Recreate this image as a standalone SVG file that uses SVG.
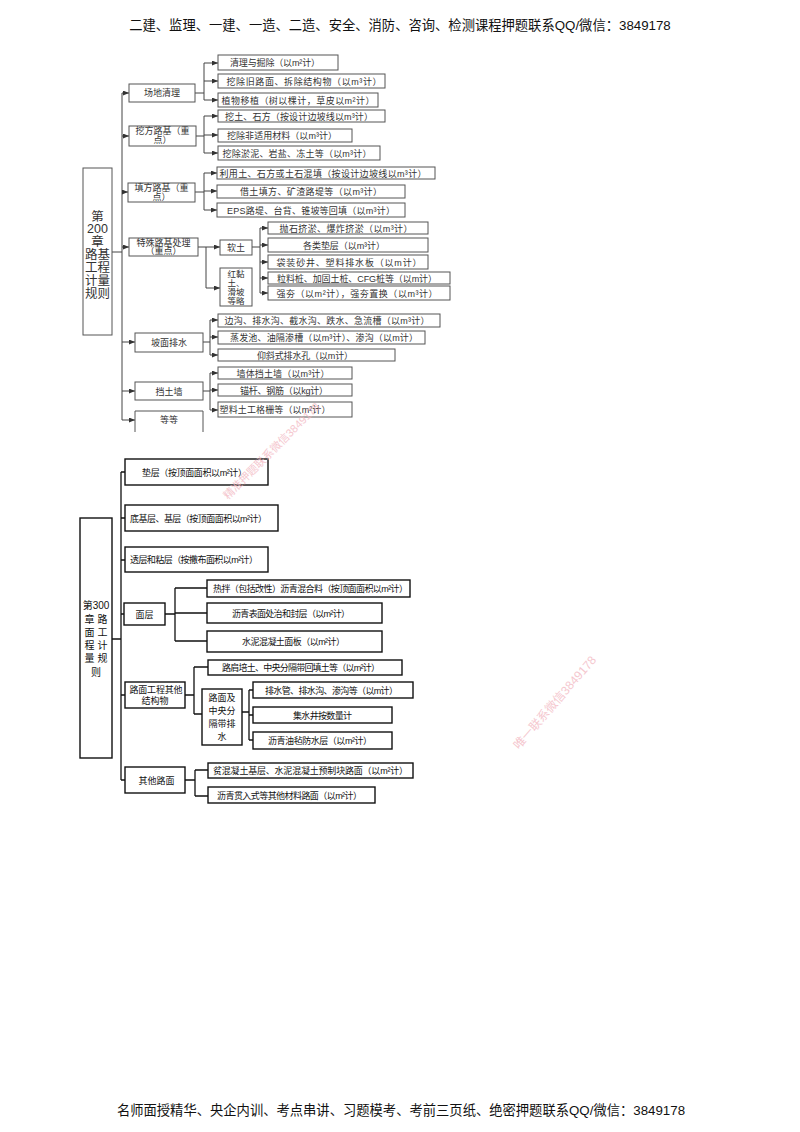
<svg xmlns="http://www.w3.org/2000/svg" width="800" height="1132" viewBox="0 0 800 1132">
<defs>
<marker id="arr" markerUnits="userSpaceOnUse" markerWidth="6" markerHeight="5" refX="6" refY="2.5" orient="auto"><path d="M0,0 L6,2.5 L0,5 z" fill="#333"/></marker>
<style>
text{font-family:"Liberation Sans","Noto Sans CJK SC",sans-serif;}
.hd{font-size:13.3px;fill:#111;text-anchor:middle;}
.tb{fill:#fff;stroke:#555;stroke-width:1;}
.tt{font-size:9px;fill:#333;text-anchor:middle;}
.tl{fill:none;stroke:#444;stroke-width:1;}
.ta{fill:none;stroke:#444;stroke-width:1;marker-end:url(#arr);}
.bb{fill:#fff;stroke:#111;stroke-width:1.4;}
.bt{font-size:9px;fill:#111;text-anchor:middle;}
.bl{fill:none;stroke:#111;stroke-width:1.3;}
.rt{font-size:12.5px;fill:#333;text-anchor:middle;}
.wm{fill:#f2b4be;opacity:0.75;}
</style>
</defs>
<rect width="800" height="1132" fill="#fff"/>
<text class="hd" x="400" y="30">二建、监理、一建、一造、二造、安全、消防、咨询、检测课程押题联系QQ/微信：3849178</text>
<text class="hd" x="401" y="1115">名师面授精华、央企内训、考点串讲、习题模考、考前三页纸、绝密押题联系QQ/微信：3849178</text>

<g id="connectors-top">
<path class="tl" d="M112,252 H122 M122,93 V420"/>
<path class="ta" d="M122,93 H129"/>
<path class="ta" d="M122,136 H129"/>
<path class="ta" d="M122,192 H128"/>
<path class="ta" d="M122,247 H129"/>
<path class="ta" d="M122,342 H135"/>
<path class="ta" d="M122,391 H135"/>
<path class="ta" d="M122,420 H135"/>
<path class="tl" d="M195,93 H204 M204,63 V100"/>
<path class="ta" d="M204,63 H218"/><path class="ta" d="M204,81 H218"/><path class="ta" d="M204,100 H218"/>
<path class="tl" d="M196,136 H204 M204,116 V153"/>
<path class="ta" d="M204,116 H218"/><path class="ta" d="M204,135 H218"/><path class="ta" d="M204,153 H218"/>
<path class="tl" d="M195,192 H204 M204,173 V210"/>
<path class="ta" d="M204,173 H217"/><path class="ta" d="M204,191 H217"/><path class="ta" d="M204,210 H217"/>
<path class="tl" d="M198,247 H206 M206,247 V288"/>
<path class="ta" d="M206,247 H220"/><path class="ta" d="M206,288 H220"/>
<path class="tl" d="M252,247 H260 M260,228 V293"/>
<path class="ta" d="M260,228 H268"/><path class="ta" d="M260,245 H268"/><path class="ta" d="M260,262 H268"/><path class="ta" d="M260,278 H268"/><path class="ta" d="M260,293 H268"/>
<path class="tl" d="M203,342 H210 M210,320 V355"/>
<path class="ta" d="M210,320 H218"/><path class="ta" d="M210,337 H218"/><path class="ta" d="M210,355 H218"/>
<path class="tl" d="M203,391 H210 M210,373 V410"/>
<path class="ta" d="M210,373 H218"/><path class="ta" d="M210,390 H218"/><path class="ta" d="M210,410 H218"/>
</g>

<g id="n200"><rect class="tb" x="83" y="168" width="29" height="167"/>
<text class="rt" x="97.5" y="221">第</text><text class="rt" x="97.5" y="233">200</text><text class="rt" x="97.5" y="246">章</text><text class="rt" x="97.5" y="259">路基</text><text class="rt" x="97.5" y="272">工程</text><text class="rt" x="97.5" y="285">计量</text><text class="rt" x="97.5" y="298">规则</text></g>

<g id="t1"><rect class="tb" x="129" y="84" width="66" height="18"/><text class="tt" x="162" y="96">场地清理</text></g>
<g id="t1a"><rect class="tb" x="218" y="55" width="120" height="15"/><text class="tt" x="275" y="66" textLength="90">清理与掘除（以m²计）</text></g>
<g id="t1b"><rect class="tb" x="218" y="74" width="167" height="14"/><text class="tt" x="304" y="84.5" textLength="155">挖除旧路面、拆除结构物（以m³计）</text></g>
<g id="t1c"><rect class="tb" x="218" y="93" width="160" height="14"/><text class="tt" x="298" y="103.5" textLength="153">植物移植（树以棵计，草皮以m²计）</text></g>

<g id="t2"><rect class="tb" x="129" y="126" width="67" height="20"/><text class="tt" x="162.5" y="134">挖方路基（重</text><text class="tt" x="162.5" y="143">点）</text></g>
<g id="t2a"><rect class="tb" x="218" y="110" width="167" height="12"/><text class="tt" x="299" y="119.5" textLength="148">挖土、石方（按设计边坡线以m³计）</text></g>
<g id="t2b"><rect class="tb" x="218" y="129" width="134" height="13"/><text class="tt" x="282" y="138.5" textLength="110">挖除非适用材料（以m³计）</text></g>
<g id="t2c"><rect class="tb" x="218" y="146" width="162" height="14"/><text class="tt" x="297" y="156.5" textLength="149">挖除淤泥、岩盐、冻土等（以m³计）</text></g>

<g id="t3"><rect class="tb" x="128" y="183" width="67" height="19"/><text class="tt" x="161.5" y="191">填方路基（重</text><text class="tt" x="161.5" y="200">点）</text></g>
<g id="t3a"><rect class="tb" x="217" y="167" width="218" height="12"/><text class="tt" x="323" y="176.5" textLength="207">利用土、石方或土石混填（按设计边坡线以m³计）</text></g>
<g id="t3b"><rect class="tb" x="217" y="185" width="188" height="13"/><text class="tt" x="311" y="194.5" textLength="142">借土填方、矿渣路堤等（以m³计）</text></g>
<g id="t3c"><rect class="tb" x="217" y="203" width="188" height="14"/><text class="tt" x="311" y="213.5" textLength="168">EPS路堤、台背、锥坡等回填（以m³计）</text></g>

<g id="t4"><rect class="tb" x="129" y="238" width="69" height="18"/><text class="tt" x="163.5" y="245.5">特殊路基处理</text><text class="tt" x="163.5" y="254">（重点）</text></g>
<g id="t4a"><rect class="tb" x="220" y="240" width="32" height="15"/><text class="tt" x="236" y="250.5">软土</text></g>
<g id="t4b"><rect class="tb" x="220" y="268" width="32" height="38"/><text class="tt" x="236" y="277" style="font-size:8.5px">红黏</text><text class="tt" x="236" y="286" style="font-size:8.5px">土、</text><text class="tt" x="236" y="295" style="font-size:8.5px">滑坡</text><text class="tt" x="236" y="304" style="font-size:8.5px">等略</text></g>
<g id="t4a1"><rect class="tb" x="268" y="222" width="160" height="12"/><text class="tt" x="346" y="231.5" textLength="133">抛石挤淤、爆炸挤淤（以m³计）</text></g>
<g id="t4a2"><rect class="tb" x="268" y="238" width="160" height="14"/><text class="tt" x="344" y="248.5" textLength="82">各类垫层（以m³计）</text></g>
<g id="t4a3"><rect class="tb" x="268" y="255" width="160" height="14"/><text class="tt" x="349" y="265.5" textLength="145">袋装砂井、塑料排水板（以m计）</text></g>
<g id="t4a4"><rect class="tb" x="268" y="272" width="182" height="12"/><text class="tt" x="357" y="281.5" textLength="160">粒料桩、加固土桩、CFG桩等（以m计）</text></g>
<g id="t4a5"><rect class="tb" x="268" y="286" width="182" height="14"/><text class="tt" x="357" y="296.5" textLength="161">强夯（以m²计），强夯置换（以m³计）</text></g>

<g id="t5"><rect class="tb" x="135" y="333" width="68" height="19"/><text class="tt" x="169" y="345.5">坡面排水</text></g>
<g id="t5a"><rect class="tb" x="218" y="314" width="222" height="13"/><text class="tt" x="327" y="323.5" textLength="205">边沟、排水沟、截水沟、跌水、急流槽（以m³计）</text></g>
<g id="t5b"><rect class="tb" x="218" y="331" width="207" height="13"/><text class="tt" x="324" y="340.5" textLength="188">蒸发池、油隔渗槽（以m³计）、渗沟（以m计）</text></g>
<g id="t5c"><rect class="tb" x="218" y="349" width="177" height="12"/><text class="tt" x="305" y="358.5" textLength="96">仰斜式排水孔（以m计）</text></g>

<g id="t6"><rect class="tb" x="135" y="382" width="68" height="18"/><text class="tt" x="169" y="394.5">挡土墙</text></g>
<g id="t6a"><rect class="tb" x="218" y="367" width="134" height="12"/><text class="tt" x="283" y="376.5" textLength="93">墙体挡土墙（以m³计）</text></g>
<g id="t6b"><rect class="tb" x="218" y="384" width="134" height="12"/><text class="tt" x="284" y="393.5" textLength="88">锚杆、钢筋（以kg计）</text></g>
<g id="t6c"><rect class="tb" x="218" y="402" width="134" height="15"/><text class="tt" x="275" y="413" textLength="111">塑料土工格栅等（以m²计）</text></g>

<g id="t7"><path class="tb" d="M135,432 V411 H203 V432"/><text class="tt" x="169" y="423">等等</text></g>

<g id="connectors-bottom">
<path class="bl" d="M112,639 H121 M121,472 V780"/>
<path class="bl" d="M121,472 H125 M121,518 H125 M121,560 H125 M121,614 H124 M121,695 H125 M121,780 H125"/>
<path class="bl" d="M165,614 H175 M175,588 V641 M175,588 H207 M175,613 H207 M175,641 H207"/>
<path class="bl" d="M185,695 H194 M194,667 V714 M194,667 H208 M194,714 H202"/>
<path class="bl" d="M242,712 H249 M249,690 V740 M249,690 H253 M249,715 H253 M249,740 H253"/>
<path class="bl" d="M185,780 H195 M195,770 V796 M195,770 H208 M195,796 H208"/>
</g>

<g id="n300"><rect class="bb" x="80" y="518" width="32" height="240"/>
<text class="bt" x="96" y="609" style="font-size:10px">第300</text><text class="bt" x="96" y="623" style="font-size:10px">章 路</text><text class="bt" x="96" y="636" style="font-size:10px">面 工</text><text class="bt" x="96" y="649" style="font-size:10px">程 计</text><text class="bt" x="96" y="662" style="font-size:10px">量 规</text><text class="bt" x="96" y="676" style="font-size:10px">则</text></g>

<g id="b1"><rect class="bb" x="125" y="459" width="143" height="26"/><text class="bt" x="194.5" y="475.5" textLength="105">垫层（按顶面面积以m²计）</text></g>
<g id="b2"><rect class="bb" x="125" y="505" width="153" height="26"/><text class="bt" x="198.5" y="521.5" textLength="137">底基层、基层（按顶面面积以m²计）</text></g>
<g id="b3"><rect class="bb" x="125" y="547" width="143" height="25"/><text class="bt" x="194" y="563" textLength="128">透层和粘层（按撒布面积以m²计）</text></g>

<g id="b4"><rect class="bb" x="124" y="603" width="41" height="22"/><text class="bt" x="144.5" y="617.5">面层</text></g>
<g id="b4a"><rect class="bb" x="207" y="580" width="203" height="17"/><text class="bt" x="310.5" y="592" textLength="195">热拌（包括改性）沥青混合料（按顶面面积以m²计）</text></g>
<g id="b4b"><rect class="bb" x="207" y="603" width="175" height="20"/><text class="bt" x="291" y="616.5" textLength="118">沥青表面处治和封层（以m²计）</text></g>
<g id="b4c"><rect class="bb" x="207" y="631" width="175" height="21"/><text class="bt" x="293.5" y="645" textLength="103">水泥混凝土面板（以m²计）</text></g>

<g id="b5"><rect class="bb" x="125" y="682" width="60" height="26"/><text class="bt" x="156" y="693" textLength="53">路面工程其他</text><text class="bt" x="155" y="704">结构物</text></g>
<g id="b5a"><rect class="bb" x="208" y="660" width="194" height="15"/><text class="bt" x="301" y="671" textLength="158">路肩培土、中央分隔带回填土等（以m²计）</text></g>
<g id="b5b"><rect class="bb" x="202" y="689" width="40" height="56"/><text class="bt" x="222" y="701">路面及</text><text class="bt" x="222" y="714">中央分</text><text class="bt" x="222" y="727">隔带排</text><text class="bt" x="222" y="740">水</text></g>
<g id="b5b1"><rect class="bb" x="253" y="682" width="160" height="16"/><text class="bt" x="331.5" y="693.5" textLength="133">排水管、排水沟、渗沟等（以m计）</text></g>
<g id="b5b2"><rect class="bb" x="253" y="707" width="139" height="16"/><text class="bt" x="322.5" y="718.5" textLength="59">集水井按数量计</text></g>
<g id="b5b3"><rect class="bb" x="253" y="732" width="139" height="17"/><text class="bt" x="320" y="744" textLength="104">沥青油毡防水层（以m²计）</text></g>

<g id="b6"><rect class="bb" x="125" y="767" width="60" height="26"/><text class="bt" x="156.5" y="783.5">其他路面</text></g>
<g id="b6a"><rect class="bb" x="208" y="763" width="205" height="15"/><text class="bt" x="310.5" y="774" textLength="195">贫混凝土基层、水泥混凝土预制块路面（以m²计）</text></g>
<g id="b6b"><rect class="bb" x="208" y="787" width="167" height="16"/><text class="bt" x="289.5" y="798.5" textLength="145">沥青贯入式等其他材料路面（以m²计）</text></g>

<text class="wm" style="font-size:11px" transform="translate(228,500) rotate(-45)">精准押题联系微信3849178</text>
<text class="wm" style="font-size:12px" transform="translate(519,750) rotate(-49)">唯一联系微信3849178</text>
</svg>
